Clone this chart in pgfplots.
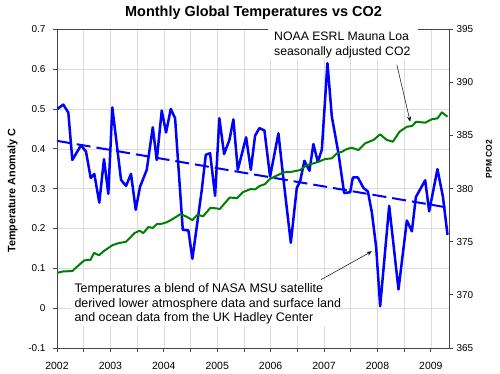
\documentclass[border=0pt]{standalone}
\usepackage{fontspec}
\setmainfont{Liberation Sans}
\usepackage{pgfplots}
\pgfplotsset{compat=1.18}
\usetikzlibrary{arrows.meta}
\definecolor{tblue}{RGB}{0,0,255}
\definecolor{cgreen}{RGB}{0,128,0}
\definecolor{gridc}{RGB}{220,220,220}
\definecolor{framec}{RGB}{70,70,70}
\begin{document}
\begin{tikzpicture}
\path[use as bounding box] (0,0) rectangle (500bp,374bp);
\begin{axis}[
  at={(57bp,26bp)}, anchor=south west,
  scale only axis, width=392bp, height=318.7bp,
  xmin=2002, xmax=2009.34, ymin=-0.1, ymax=0.7,
  xtick={2002,2003,2004,2005,2006,2007,2008,2009},
  minor xtick={2002.5,2003.5,2004.5,2005.5,2006.5,2007.5,2008.5},
  ytick={-0.1,0,0.1,0.2,0.3,0.4,0.5,0.6,0.7},
  xmajorgrids, xminorgrids, ymajorgrids,
  major grid style={draw=gridc, line width=0.6bp},
  minor grid style={draw=gridc, line width=0.6bp},
  axis line style={draw=framec, line width=0.8bp},
  tick style={draw=framec, line width=0.8bp},
  tick align=outside, xtick pos=lower, ytick pos=left,
  major tick length=4bp, minor tick length=4bp,
  /pgf/number format/assume math mode=true,
  xticklabel style={/pgf/number format/1000 sep={}, font=\fontsize{10.5}{12}\selectfont, yshift=-7bp},
  yticklabel style={/pgf/number format/fixed, /pgf/number format/precision=1, font=\fontsize{10}{12}\selectfont, xshift=-4bp},
  ylabel={Temperature Anomaly C},
  ylabel style={at={(axis description cs:-0.113,0.493)}, anchor=center, font=\bfseries\fontsize{10.8}{12}\selectfont},
]
\addplot[draw=tblue, line width=2.5bp, line join=round] coordinates {
(2002.006,0.500) (2002.118,0.511) (2002.212,0.491) (2002.287,0.372) (2002.450,0.409)
(2002.543,0.393) (2002.631,0.327) (2002.699,0.337) (2002.792,0.265) (2002.880,0.374)
(2002.961,0.287) (2003.036,0.504) (2003.199,0.322) (2003.293,0.307) (2003.386,0.337)
(2003.474,0.247) (2003.555,0.305) (2003.680,0.347) (2003.793,0.454) (2003.868,0.372)
(2003.961,0.496) (2004.042,0.441) (2004.130,0.500) (2004.211,0.477) (2004.355,0.197)
(2004.460,0.195) (2004.535,0.124) (2004.711,0.297) (2004.786,0.385) (2004.866,0.389)
(2004.960,0.282) (2005.040,0.477) (2005.129,0.387) (2005.228,0.422) (2005.303,0.474)
(2005.385,0.347) (2005.541,0.429) (2005.629,0.347) (2005.709,0.433) (2005.790,0.452)
(2005.884,0.446) (2005.990,0.330) (2006.146,0.439) (2006.239,0.325) (2006.378,0.164)
(2006.490,0.302) (2006.552,0.318) (2006.633,0.370) (2006.727,0.345) (2006.801,0.412)
(2006.884,0.367) (2006.959,0.398) (2007.064,0.615) (2007.146,0.481) (2007.270,0.389)
(2007.377,0.289) (2007.489,0.291) (2007.540,0.328) (2007.633,0.328) (2007.738,0.302)
(2007.821,0.293) (2007.896,0.240) (2007.976,0.153) (2008.051,0.005) (2008.220,0.257)
(2008.394,0.047) (2008.551,0.220) (2008.645,0.193) (2008.720,0.279) (2008.894,0.321)
(2008.969,0.243) (2009.124,0.349) (2009.226,0.280) (2009.312,0.184)
};
\addplot[draw=tblue, line width=2bp, dash pattern=on 14bp off 6bp] coordinates {
(2002,0.420) (2009.34,0.252)
};
\draw[-{Stealth[length=5bp,width=4bp]}, line width=0.5bp, black] (axis cs:2008.364,0.6105) -- (axis cs:2008.613,0.4684);
\draw[-{Stealth[length=5bp,width=4bp]}, line width=0.5bp, black] (axis cs:2006.946,0.0717) -- (axis cs:2007.895,0.1426);
\end{axis}
\begin{axis}[
  at={(57bp,26bp)}, anchor=south west,
  scale only axis, width=392bp, height=318.7bp,
  xmin=2002, xmax=2009.34, ymin=365, ymax=395,
  axis x line=none, axis y line*=right,
  ytick={365,370,375,380,385,390,395},
  axis line style={draw=framec, line width=0.8bp},
  tick style={draw=framec, line width=0.8bp},
  tick align=outside, major tick length=4bp,
  /pgf/number format/assume math mode=true,
  yticklabel style={font=\fontsize{10}{12}\selectfont},
  ylabel={PPM CO2},
  ylabel style={at={(axis description cs:1.102,0.593)}, anchor=center, font=\bfseries\fontsize{8.5}{10}\selectfont},
]
\addplot[draw=cgreen, line width=2bp, line join=round] coordinates {
(2002.006,372.08) (2002.118,372.21) (2002.287,372.24) (2002.399,372.76) (2002.511,373.25)
(2002.628,373.30) (2002.693,373.96) (2002.787,373.73) (2002.880,374.14) (2003.043,374.69)
(2003.161,374.88) (2003.293,375.00) (2003.452,375.82) (2003.546,376.04) (2003.617,375.82)
(2003.710,376.38) (2003.793,376.31) (2003.873,376.67) (2003.967,376.70) (2004.061,376.85)
(2004.149,377.09) (2004.314,377.61) (2004.430,377.35) (2004.535,377.04) (2004.632,377.56)
(2004.735,377.39) (2004.872,378.19) (2004.973,378.15) (2005.048,378.08) (2005.232,379.16)
(2005.372,379.11) (2005.484,379.68) (2005.625,379.96) (2005.709,379.93) (2005.794,380.25)
(2005.897,380.43) (2005.981,380.90) (2006.116,381.23) (2006.239,381.53) (2006.397,381.59)
(2006.552,381.75) (2006.678,382.22) (2006.801,382.38) (2006.895,382.53) (2007.021,382.79)
(2007.146,382.85) (2007.240,383.32) (2007.333,383.47) (2007.427,383.73) (2007.521,383.85)
(2007.644,383.63) (2007.770,384.27) (2007.925,384.58) (2008.051,385.11) (2008.176,384.58)
(2008.289,384.42) (2008.413,385.36) (2008.551,385.83) (2008.645,385.89) (2008.725,386.30)
(2008.894,386.21) (2009.019,386.53) (2009.124,386.62) (2009.207,387.18) (2009.312,386.77)
};
\end{axis}
% title
\node[anchor=base, font=\bfseries\fontsize{14.5}{17}\selectfont] at (253.5bp,{374bp-16.7bp}) {Monthly Global Temperatures vs CO2};
% annotation boxes
\fill[white] (268bp,{374bp-27bp}) rectangle (418bp,{374bp-59bp});
\node[anchor=north west, inner sep=0pt, align=left, font=\fontsize{12.3}{15.4}\selectfont] at (274bp,{374bp-31.9bp}) {NOAA ESRL Mauna Loa\\seasonally adjusted CO2};
\fill[white] (71bp,{374bp-281bp}) rectangle (334bp,{374bp-326bp});
\node[anchor=north west, inner sep=0pt, align=left, font=\fontsize{12.5}{14.5}\selectfont] at (74.3bp,{374bp-283.6bp}) {Temperatures a blend of NASA MSU satellite\\derived lower atmosphere data and surface land\\and ocean data from the UK Hadley Center};
\end{tikzpicture}
\end{document}
